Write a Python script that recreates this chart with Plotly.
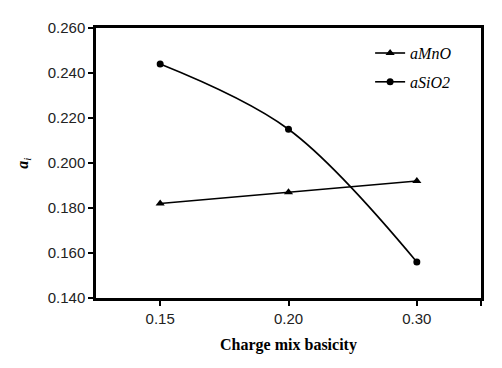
import plotly.graph_objects as go

categories = ["0.15", "0.20", "0.30"]
a_mno = [0.182, 0.187, 0.192]
a_sio2 = [0.244, 0.215, 0.156]
y_ticks = [0.140, 0.160, 0.180, 0.200, 0.220, 0.240, 0.260]

xi = list(range(len(categories)))

fig = go.Figure()
fig.add_trace(go.Scatter(
    x=xi, y=a_mno, name="<i>aMnO</i>", mode="lines+markers", legendgroup="g1",
    line=dict(color="black", width=1.6),
    marker=dict(symbol="triangle-up", size=8, color="black"),
))
fig.add_trace(go.Scatter(
    x=xi, y=a_sio2, name="<i>aSiO2</i>", mode="lines+markers", legendgroup="g2",
    line=dict(color="black", width=1.6, shape="spline", smoothing=1.0),
    marker=dict(symbol="circle", size=7, color="black"),
))

fig.update_layout(
    width=494, height=360,
    margin=dict(l=88, r=21, t=11, b=70),
    paper_bgcolor="white", plot_bgcolor="white",
    font=dict(family="Liberation Sans, Arial", size=15, color="black"),
    showlegend=True,
    legend=dict(
        x=0.712, y=0.97, xanchor="left", yanchor="top",
        bgcolor="rgba(0,0,0,0)",
        font=dict(family="Liberation Serif, Times New Roman", size=16, color="black"),
        itemwidth=30, tracegroupgap=5,
    ),
    xaxis=dict(
        range=[-0.5, len(categories) - 0.5],
        tickmode="array",
        tickvals=xi + [len(categories) - 0.5],
        ticktext=categories + [""],
        ticks="outside", ticklen=5, tickwidth=2, tickcolor="black",
        showline=True, linewidth=2.5, linecolor="black", mirror=True,
        showgrid=False, zeroline=False,
        tickfont=dict(family="Liberation Sans, Arial", size=15, color="#222"),
        title=dict(text="<b>Charge mix basicity</b>", standoff=14,
                   font=dict(family="Liberation Serif, Times New Roman", size=16, color="black")),
    ),
    yaxis=dict(
        range=[0.140, 0.260],
        tickmode="array", tickvals=y_ticks,
        ticktext=[f"{v:.3f}" for v in y_ticks],
        ticks="outside", ticklen=5, tickwidth=2, tickcolor="black",
        showline=True, linewidth=2.5, linecolor="black", mirror=True,
        showgrid=False, zeroline=False,
        tickfont=dict(family="Liberation Sans, Arial", size=15, color="#222"),
    ),
    annotations=[dict(
        text="<b><i>a</i></b><sub><i>i</i></sub>",
        xref="paper", yref="paper", x=-0.19, y=0.5,
        xanchor="center", yanchor="middle", showarrow=False, textangle=-90,
        font=dict(family="Liberation Serif, Times New Roman", size=16, color="black"),
    )],
)

fig.write_html("out.html")
